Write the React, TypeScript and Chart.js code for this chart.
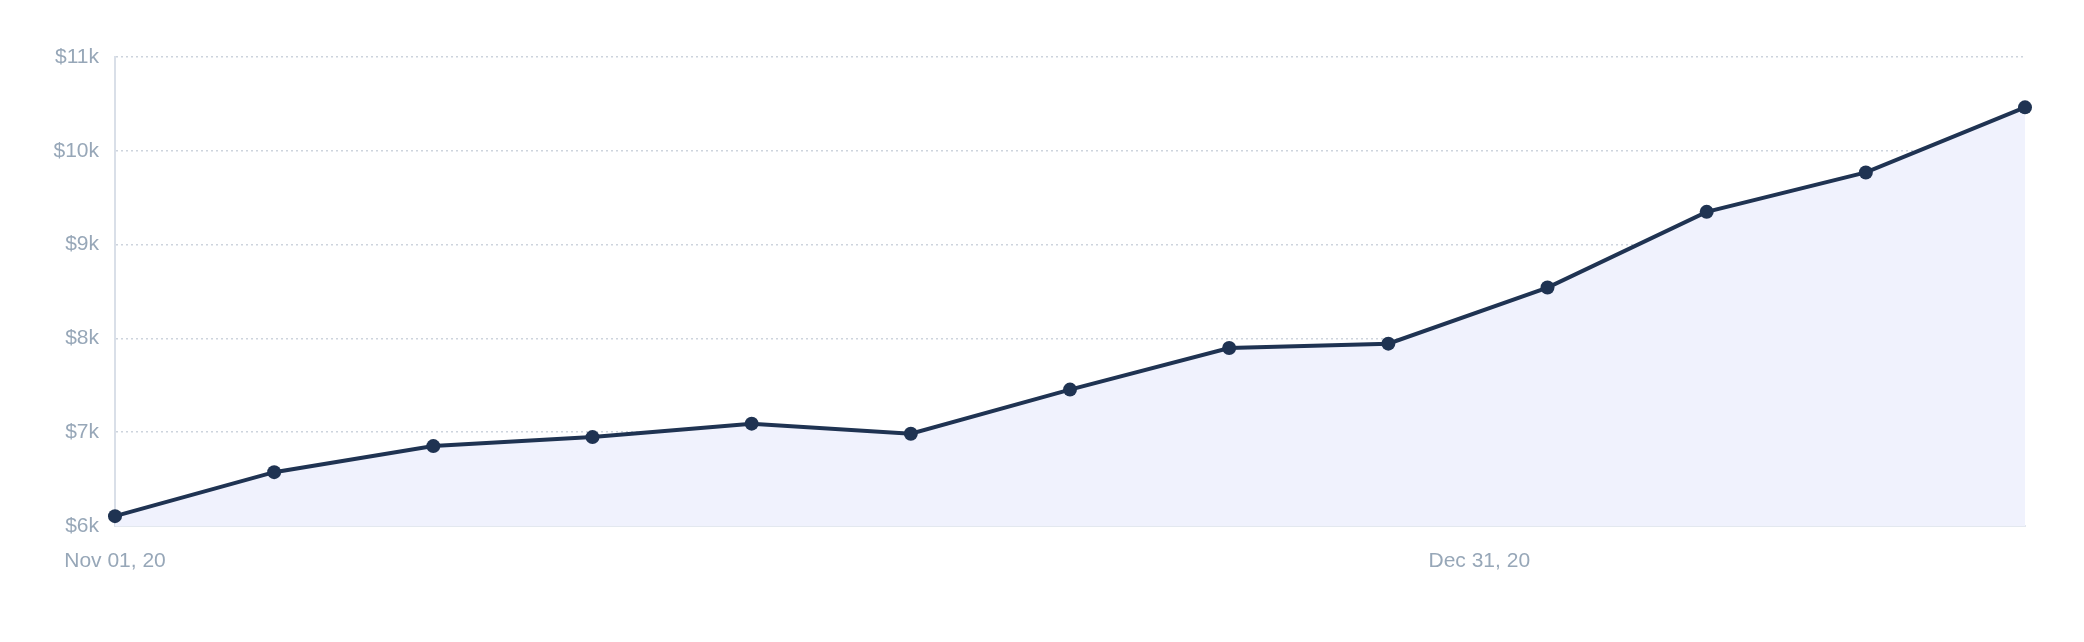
import React, { useEffect, useRef } from "react";
import { Chart, registerables } from "chart.js";

Chart.register(...registerables);

// days since Nov 01, 2020 (weekly points)
const dayOffsets = [0, 7, 14, 21, 28, 35, 42, 49, 56, 63, 70, 77, 84];
const values = [6105, 6574, 6852, 6948, 7091, 6984, 7454, 7898, 7944, 8542, 9349, 9769, 10463];
const xTickDays = [0, 60];
const xTickLabels = ["Nov 01, 20", "Dec 31, 20"];
const yTicks = [6000, 7000, 8000, 9000, 10000, 11000];

export default function App() {
  const ref = useRef<HTMLCanvasElement | null>(null);

  useEffect(() => {
    document.body.style.margin = "0";
    const canvas = ref.current;
    if (!canvas) return;
    const labelColor = "#97a7b8";
    const font = { family: "'Liberation Sans', Arial, sans-serif", size: 21 };
    const chart = new Chart(canvas, {
      type: "line",
      data: {
        datasets: [
          {
            data: dayOffsets.map((d, i) => ({ x: d, y: values[i] })),
            borderColor: "#1f3352",
            borderWidth: 4,
            backgroundColor: "#f0f2fd",
            fill: "start",
            tension: 0,
            pointRadius: 7,
            pointBorderWidth: 0,
            pointBackgroundColor: "#1f3352",
            clip: false as any,
          },
        ],
      },
      options: {
        animation: false,
        responsive: false,
        maintainAspectRatio: false,
        layout: { padding: { left: 0, right: 59, top: 57, bottom: 56 } },
        plugins: { legend: { display: false }, tooltip: { enabled: false } },
        scales: {
          x: {
            type: "linear",
            min: 0,
            max: 84,
            grid: { display: false, drawTicks: false },
            border: { display: true, color: "#e3e8ef", width: 2 },
            afterBuildTicks: (s: any) => {
              s.ticks = xTickDays.map((v) => ({ value: v }));
            },
            afterFit: (s: any) => {
              s.height = 60;
            },
            ticks: {
              color: labelColor,
              font,
              padding: 23,
              maxRotation: 0,
              autoSkip: false,
              callback: (v: any) => {
                const i = xTickDays.indexOf(Number(v));
                return i >= 0 ? xTickLabels[i] : "";
              },
            },
          },
          y: {
            type: "linear",
            min: 6000,
            max: 11000,
            afterBuildTicks: (s: any) => {
              s.ticks = yTicks.map((v) => ({ value: v }));
            },
            afterFit: (s: any) => {
              s.width = 115;
            },
            grid: { color: "#cdd4dd", lineWidth: 1.5, drawTicks: false },
            border: { display: true, color: "#d9dfe8", width: 2, dash: [2, 3] },
            ticks: {
              color: labelColor,
              font,
              padding: 16,
              callback: (v: any) => "$" + Number(v) / 1000 + "k",
            },
          },
        },
      },
    });
    return () => chart.destroy();
  }, []);

  return <canvas ref={ref} width={2084} height={642} style={{ display: "block" }} />;
}
